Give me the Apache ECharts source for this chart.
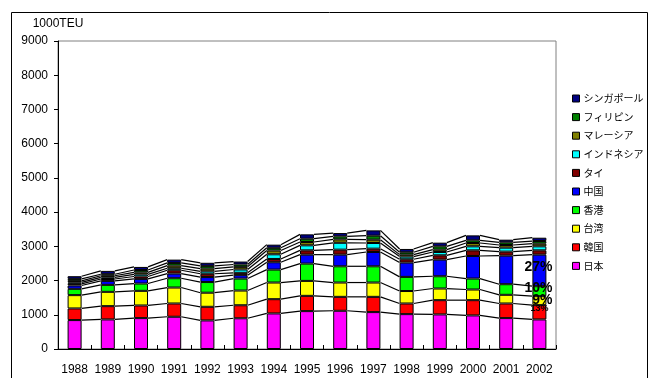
<!DOCTYPE html>
<html>
<head>
<meta charset="utf-8">
<script src="https://cdn.jsdelivr.net/npm/echarts@6/dist/echarts.min.js"></script>
<style>
html, body { margin: 0; padding: 0; background: #fff; }
#chart { width: 651px; height: 378px; }
</style>
</head>
<body>
<div id="chart"></div>
<script>
// 単位: 1000TEU
const years = ['1988','1989','1990','1991','1992','1993','1994','1995','1996','1997','1998','1999','2000','2001','2002'];
const japan       = [845, 864, 903, 942, 835, 898, 1039, 1107, 1117, 1078, 1019, 1010, 981, 903, 864];
const korea       = [340, 388, 369, 388, 398, 380, 417, 446, 407, 446, 311, 417, 446, 427, 418];
const taiwan      = [389, 418, 427, 466, 412, 430, 486, 437, 418, 418, 364, 340, 311, 253, 262];
const hongkong    = [184, 204, 214, 272, 311, 350, 378, 505, 475, 475, 413, 359, 320, 310, 291];
const china       = [97, 116, 136, 136, 146, 100, 214, 262, 340, 418, 418, 486, 660, 835, 922];
const thailand    = [50, 55, 70, 97, 97, 68, 97, 126, 146, 97, 97, 126, 165, 117, 126];
const indonesia   = [40, 50, 60, 58, 70, 97, 136, 146, 200, 165, 78, 97, 117, 116, 117];
const malaysia    = [46, 45, 60, 78, 80, 78, 110, 97, 100, 97, 58, 68, 97, 78, 78];
const philippines = [58, 45, 70, 78, 80, 68, 80, 97, 88, 117, 68, 97, 78, 78, 77];
const singapore   = [78, 97, 89, 97, 90, 86, 92, 127, 97, 155, 97, 107, 145, 77, 97];

const names = ['日本', '韓国', '台湾', '香港', '中国', 'タイ', 'インドネシア', 'マレーシア', 'フィリピン', 'シンガポール'];
const values = [japan, korea, taiwan, hongkong, china, thailand, indonesia, malaysia, philippines, singapore];
const colors = ['#ff00ff', '#ff0000', '#ffff00', '#00ff00', '#0000ff', '#800000', '#00ffff', '#808000', '#008000', '#000080'];
// 2002年の棒に付いているラベル
const labels2002 = { '中国': '27%', '香港': '10%', '台湾': '9%', '韓国': '13%' };

const barWidth = 14;
const font = '"Liberation Sans", Arial, sans-serif';
const jpFont = '"Noto Sans CJK JP", sans-serif';

// 各系列の積み上げ上端（区分線用）
const cum = [];
values.forEach((vals, k) => {
    cum.push(vals.map((v, i) => v + (k > 0 ? cum[k - 1][i] : 0)));
});

const chart = echarts.init(document.getElementById('chart'));

const barSeries = names.map((name, k) => ({
    name: name,
    type: 'bar',
    stack: 'total',
    barWidth: barWidth,
    z: 3,
    itemStyle: { color: colors[k], borderColor: '#000', borderWidth: 1 },
    data: values[k].map((v, i) => {
        if (i === years.length - 1 && labels2002[name]) {
            return {
                value: v,
                label: {
                    show: true,
                    formatter: labels2002[name],
                    position: 'inside',
                    offset: name === '台湾' ? [3, -1] : (name === '韓国' ? [0, -4] : [-1, -3]),
                    color: '#000',
                    fontWeight: 'bold',
                    fontSize: name === '韓国' ? 9 : 14,
                    fontFamily: '"Liberation Sans Narrow", "Arial Narrow", ' + font
                }
            };
        }
        return v;
    })
}));

// Excel風の区分線（隣り合う棒の各区分上端を結ぶ）
const seriesLines = {
    type: 'custom',
    z: 2,
    silent: true,
    encode: { x: 0, y: 1 },
    data: years.slice(0, -1).map((y, i) => [i, 0]),
    renderItem(params, api) {
        const i = api.value(0);
        const half = barWidth / 2;
        return {
            type: 'group',
            children: cum.map(c => {
                const p1 = api.coord([i, c[i]]);
                const p2 = api.coord([i + 1, c[i + 1]]);
                return {
                    type: 'line',
                    shape: { x1: p1[0] + half, y1: p1[1], x2: p2[0] - half, y2: p2[1] },
                    style: { stroke: '#000', lineWidth: 1.2 }
                };
            })
        };
    }
};

chart.setOption({
    animation: false,
    grid: { left: 58, right: 95, top: 41, bottom: 29, show: true, borderColor: '#808080', borderWidth: 1 },
    legend: {
        data: names.slice().reverse(),
        orient: 'vertical',
        left: 567,
        top: 88,
        itemWidth: 7,
        itemHeight: 7,
        itemGap: 7.6,
        icon: 'rect',
        itemStyle: { borderColor: '#000', borderWidth: 1 },
        textStyle: { fontFamily: jpFont, fontSize: 10, color: '#000', lineHeight: 11, padding: [0, 0, 0, -1] }
    },
    xAxis: {
        type: 'category',
        data: years,
        axisLine: { lineStyle: { color: '#000', width: 1 } },
        axisTick: { show: true, inside: true, length: 4, lineStyle: { color: '#000' } },
        axisLabel: { color: '#000', fontFamily: font, fontSize: 12, margin: 15, interval: 0 },
        splitLine: { show: false }
    },
    yAxis: {
        type: 'value',
        min: 0,
        max: 9000,
        interval: 1000,
        name: '1000TEU',
        nameGap: 11,
        nameTextStyle: { color: '#000', fontFamily: font, fontSize: 12, align: 'center' },
        axisLine: { show: true, lineStyle: { color: '#000', width: 1 } },
        axisTick: { show: true, inside: false, length: 4, lineStyle: { color: '#000' } },
        axisLabel: { color: '#000', fontFamily: font, fontSize: 12, margin: 10, formatter: v => String(v) },
        splitLine: { show: false }
    },
    graphic: [{
        type: 'rect',
        shape: { x: 11.5, y: 12.5, width: 636, height: 400 },
        style: { fill: 'none', stroke: '#000', lineWidth: 1 },
        silent: true
    }],
    series: [seriesLines].concat(barSeries)
});
</script>
</body>
</html>
